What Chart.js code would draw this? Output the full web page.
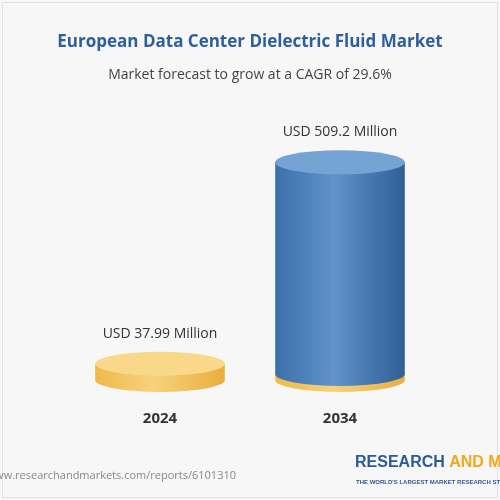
<!DOCTYPE html>
<html><head><meta charset="utf-8">
<script src="https://cdn.jsdelivr.net/npm/chart.js@4"></script>
<style>html,body{margin:0;padding:0;background:#fff}#w{width:500px;height:500px;position:relative}</style>
</head><body><div id="w"><canvas id="c" width="500" height="500"></canvas></div>
<script>
const categories = ["2024", "2034"];
const values = [37.99, 509.2];
const valueLabels = ["USD 37.99 Million", "USD 509.2 Million"];
const titleText = "European Data Center Dielectric Fluid Market";
const subtitleText = "Market forecast to grow at a CAGR of 29.6%";

function ellipse(ctx, x, y, rx, ry){ctx.beginPath();ctx.ellipse(x,y,rx,ry,0,0,Math.PI*2);}
function body(ctx,x,top,bot,rx,ry,c1,c2,c3){
  const g=ctx.createLinearGradient(x-rx,0,x+rx,0);
  g.addColorStop(0,c1);g.addColorStop(0.45,c2);g.addColorStop(1,c3);
  ctx.fillStyle=g;ctx.beginPath();
  ctx.moveTo(x-rx,top);ctx.lineTo(x-rx,bot);
  ctx.ellipse(x,bot,rx,ry,0,Math.PI,0,true);
  ctx.lineTo(x+rx,top);ctx.closePath();ctx.fill();
}
const cyl = {
  id:'cyl',
  beforeDraw(chart){
    const ctx=chart.ctx;ctx.save();
    ctx.fillStyle='#f7f7f7';ctx.fillRect(0,0,500,500);
    ctx.strokeStyle='#e2e2e2';ctx.strokeRect(2.5,2.5,495,495);
    ctx.textAlign='center';ctx.textBaseline='middle';
    ctx.fillStyle='#2f5e9e';ctx.font='bold 17px "Open Sans", Arial';
    ctx.fillText(titleText,250,42);
    ctx.fillStyle='#444';ctx.font='14px "Open Sans", Arial';
    ctx.fillText(subtitleText,250,75);
    ctx.textAlign='right';ctx.fillStyle='#888';ctx.font='11px "Open Sans", Arial';
    ctx.fillText('www.researchandmarkets.com/reports/6101310',236,476);
    ctx.textAlign='left';ctx.font='bold 16px "Liberation Sans", Arial';
    ctx.fillStyle='#2a5a9a';ctx.fillText('RESEARCH',355,463);
    const w=ctx.measureText('RESEARCH ').width;
    ctx.fillStyle='#f2a81d';ctx.fillText('AND MARKETS',355+w,463);
    ctx.fillStyle='#2a5a9a';ctx.font='bold 6px "Liberation Sans", Arial';
    ctx.fillText("THE WORLD'S LARGEST MARKET RESEARCH STORE",356,482);
    ctx.restore();
  },
  afterDatasetsDraw(chart){
    const ctx=chart.ctx;const meta=chart.getDatasetMeta(0);ctx.save();
    meta.data.forEach((b,i)=>{
      const rx=b.width/2, ry=12, x=b.x, bot=b.base, top=b.y;
      if(i===0){
        body(ctx,x,top,bot,rx,ry,'#efb94a','#f6d27c','#e9ae3e');
        ellipse(ctx,x,top,rx,ry);ctx.fillStyle='#f8d989';ctx.fill();
      } else {
        const gold=bot-6;
        body(ctx,x,gold,bot,rx,ry,'#efb94a','#f6d27c','#e9ae3e');
        body(ctx,x,top,gold,rx,ry,'#3d70ab','#5f93c9','#2f5f96');
        ellipse(ctx,x,top,rx,ry);ctx.fillStyle='#74a3d4';ctx.fill();
      }
      ctx.fillStyle='#333';ctx.font='14px "Open Sans", Arial';
      ctx.textAlign='center';ctx.textBaseline='middle';
      ctx.fillText(valueLabels[i],x,top-ry-18);
    });
    ctx.restore();
  }
};
new Chart(document.getElementById('c'),{
  type:'bar',
  data:{labels:categories,datasets:[{data:values,backgroundColor:'rgba(0,0,0,0)',barPercentage:0.72,categoryPercentage:1}]},
  options:{responsive:false,animation:false,devicePixelRatio:1,
    layout:{padding:{top:100,left:70,right:70,bottom:50}},
    plugins:{legend:{display:false},tooltip:{enabled:false}},
    scales:{
      x:{grid:{display:false},border:{display:false},ticks:{color:'#333',font:{size:15,weight:'bold',family:'"Open Sans", Arial'},padding:22}},
      y:{display:false,min:0,max:655}
    }},
  plugins:[cyl]
});
</script></body></html>
